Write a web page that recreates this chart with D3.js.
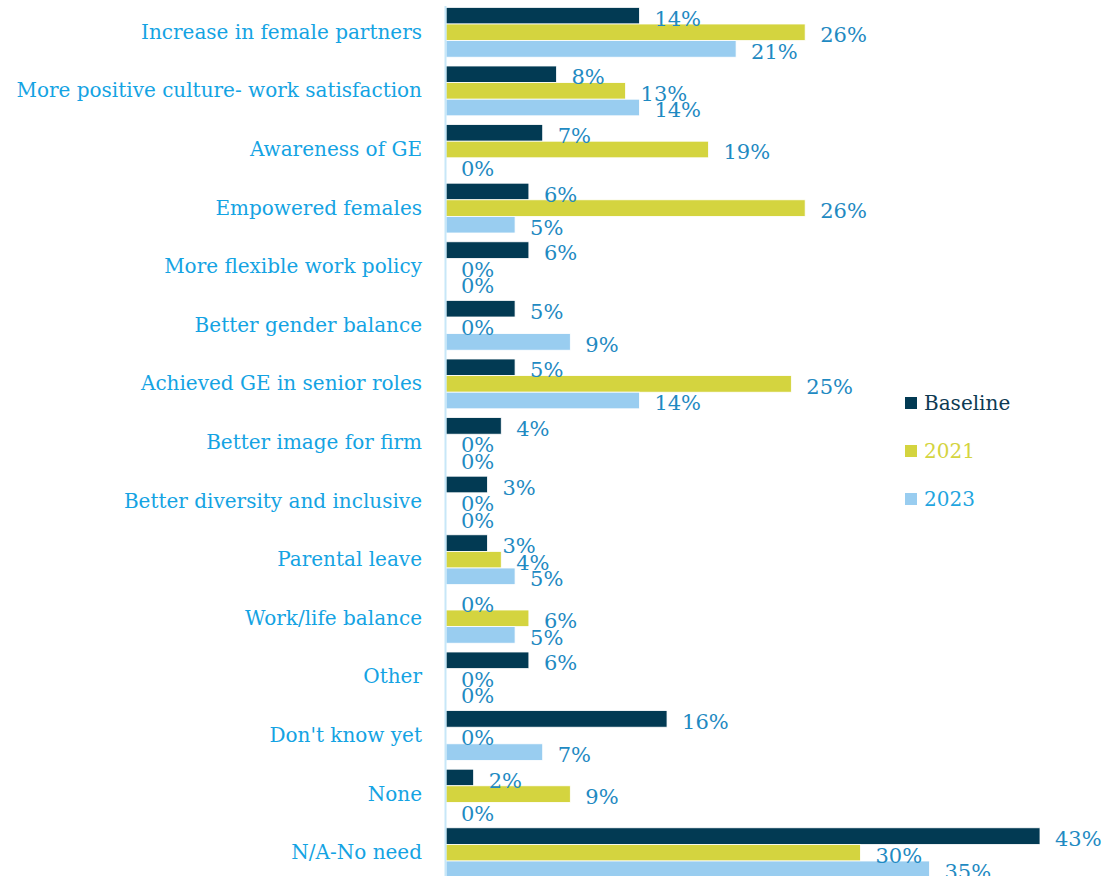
<!DOCTYPE html>
<html>
<head>
<meta charset="utf-8">
<script src="https://cdn.jsdelivr.net/npm/d3@7"></script>
<style>
  body { margin: 0; background: #ffffff; }
  text { font-family: "DejaVu Serif", serif; }
</style>
</head>
<body>
<div id="chart"></div>
<script>
// categories, top to bottom
var categories = [
  "Increase in female partners",
  "More positive culture- work satisfaction",
  "Awareness of GE",
  "Empowered females",
  "More flexible work policy",
  "Better gender balance",
  "Achieved GE in senior roles",
  "Better image for firm",
  "Better diversity and inclusive",
  "Parental leave",
  "Work/life balance",
  "Other",
  "Don't know yet",
  "None",
  "N/A-No need"
];
var seriesNames = ["Baseline", "2021", "2023"];
var baseline = [14, 8, 7, 6, 6, 5, 5, 4, 3, 3, 0, 6, 16, 2, 43];
var y2021    = [26, 13, 19, 26, 0, 0, 25, 0, 0, 4, 6, 0, 0, 9, 30];
var y2023    = [21, 14, 0, 5, 0, 9, 14, 0, 0, 5, 5, 0, 7, 0, 35];
var colors = ["#023a53", "#d4d43f", "#99cdf0"];
var legendText = ["#0d3a52", "#d4d43f", "#1fa5e0"];

var width = 1104, height = 876;

var svg = d3.select("#chart").append("svg")
    .attr("width", width)
    .attr("height", height);

// scales
var x = d3.scaleLinear().domain([0, 43]).range([446, 1040]);
var y0 = d3.scaleBand().domain(categories).range([3, 882])
    .paddingInner(0.15).paddingOuter(0.075);
var y1 = d3.scaleBand().domain(seriesNames).range([0, y0.bandwidth()]);

var rows = categories.map(function(c, i) {
  return {cat: c, values: [baseline[i], y2021[i], y2023[i]]};
});

var groups = svg.append("g").selectAll("g")
    .data(rows)
    .enter().append("g")
    .attr("transform", function(d) { return "translate(0," + y0(d.cat) + ")"; });

// bars
groups.selectAll("rect")
    .data(function(d) { return d.values.map(function(v, j) { return {v: v, s: seriesNames[j], j: j}; }); })
    .enter().append("rect")
    .attr("x", x(0))
    .attr("y", function(d) { return y1(d.s); })
    .attr("width", function(d) { return x(d.v) - x(0); })
    .attr("height", y1.bandwidth())
    .attr("fill", function(d) { return colors[d.j]; })
    .attr("stroke", "#ffffff")
    .attr("stroke-width", 0.8);

// value labels
groups.selectAll("text.val")
    .data(function(d) { return d.values.map(function(v, j) { return {v: v, s: seriesNames[j], j: j}; }); })
    .enter().append("text")
    .attr("class", "val")
    .attr("x", function(d) { return x(d.v) + 15; })
    .attr("y", function(d) { return y1(d.s) + y1.bandwidth() / 2 + 10; })
    .attr("fill", "#1f8ac2")
    .style("font-size", "21px")
    .text(function(d) { return d.v + "%"; });

// y axis
var yAxis = svg.append("g")
    .attr("transform", "translate(" + x(0) + ",0)")
    .call(d3.axisLeft(y0).tickSize(0).tickPadding(24));
yAxis.select(".domain").remove();
yAxis.selectAll("text")
    .attr("fill", "#14a3e3")
    .style("font-size", "20px")
    .style("font-family", "DejaVu Serif, serif");

svg.append("line")
    .attr("x1", x(0) - 0.5).attr("x2", x(0) - 0.5)
    .attr("y1", 6).attr("y2", height)
    .attr("stroke", "#c7e7f8")
    .attr("stroke-width", 2);

// legend
var legend = svg.append("g").selectAll("g")
    .data(seriesNames)
    .enter().append("g")
    .attr("transform", function(d, i) { return "translate(905," + (397 + i * 48) + ")"; });
legend.append("rect")
    .attr("width", 12).attr("height", 12)
    .attr("fill", function(d, i) { return colors[i]; });
legend.append("text")
    .attr("x", 19).attr("y", 13)
    .attr("fill", function(d, i) { return legendText[i]; })
    .style("font-size", "20px")
    .text(function(d) { return d; });
</script>
</body>
</html>
